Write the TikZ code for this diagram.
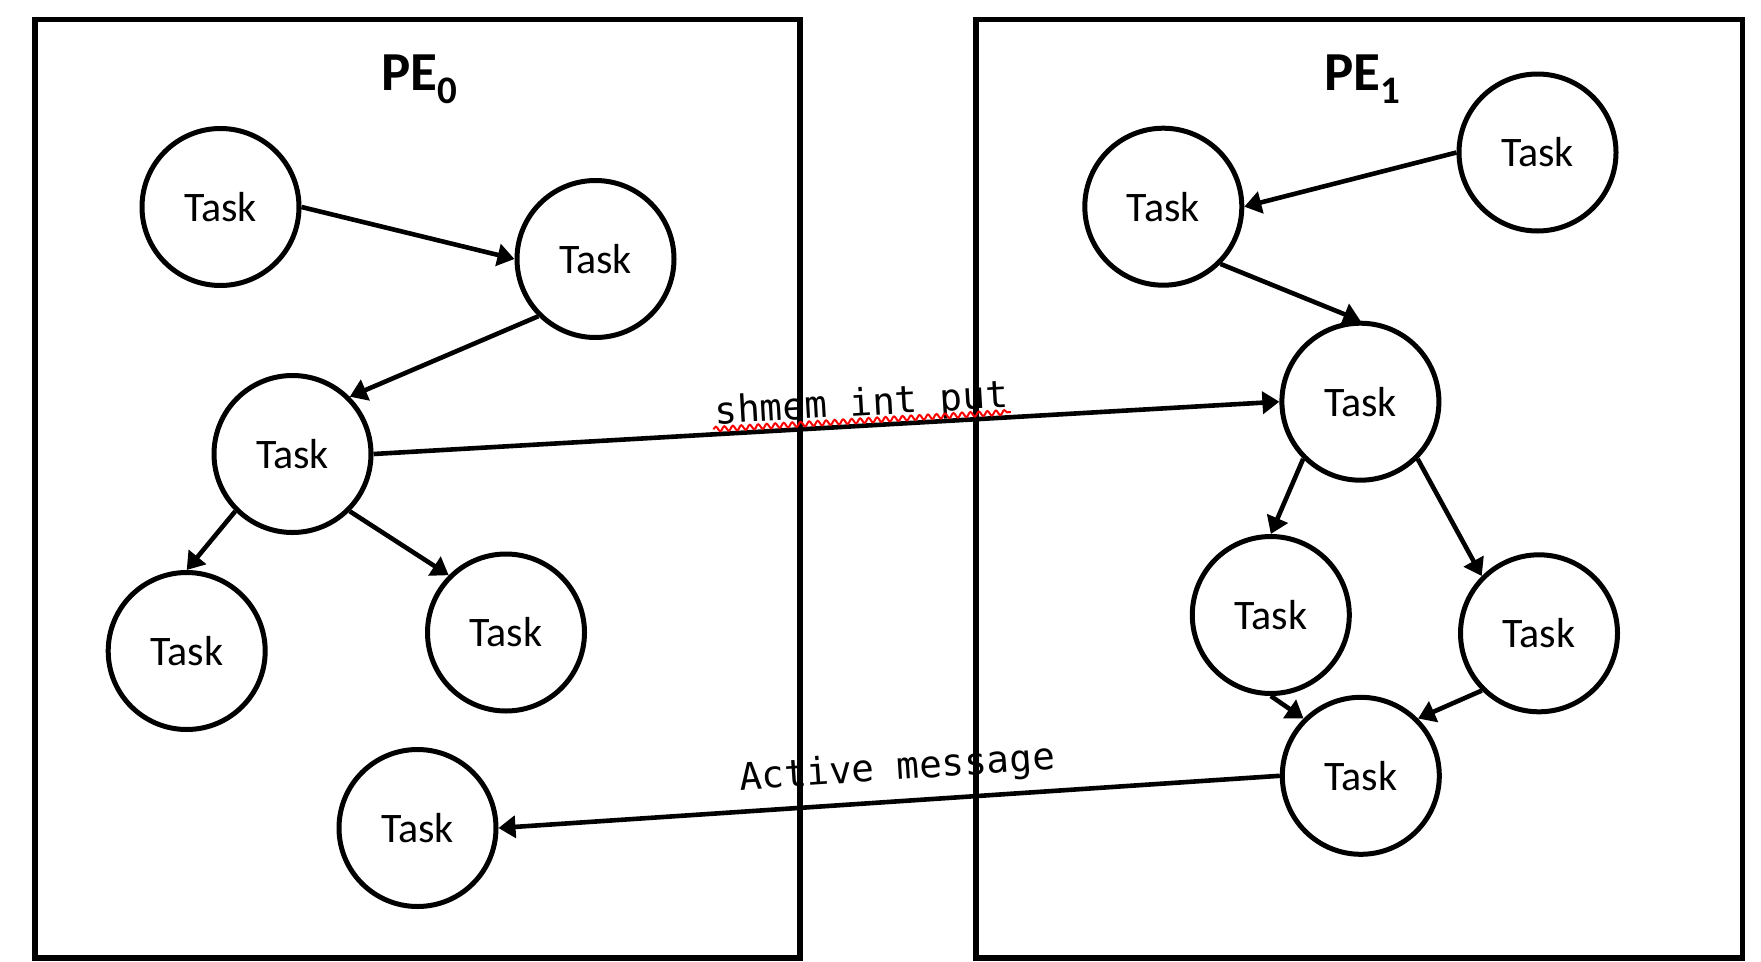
\documentclass[tikz,border=0pt]{standalone}
\usepackage{fontspec}
\setmainfont{Carlito}
\newfontfamily\codefont{DejaVu Sans Mono}
\usetikzlibrary{arrows.meta,decorations.pathmorphing}
\begin{document}
\begin{tikzpicture}[x=1pt,y=-1pt,
  task/.style={circle,draw,line width=5pt,minimum size=157pt,inner sep=0pt,font=\fontsize{42}{50}\selectfont},
  pebox/.style={draw,line width=5.5pt},
  arr/.style={line width=4.6pt,-{Triangle[length=17pt,width=22pt]}},
  rarr/.style={line width=4.6pt,{Triangle[length=17pt,width=22pt]}-},
  lbl/.style={font=\codefont\fontsize{37.5}{45}\selectfont,sloped,above,inner sep=0pt},
  title/.style={font=\bfseries\fontsize{55}{60}\selectfont,anchor=base,inner sep=0pt},
  squiggle/.style={red,line width=2pt,decorate,decoration={snake,amplitude=2.4pt,segment length=8.5pt}}]
\useasboundingbox (0,0) rectangle (1761,961);
% PE boxes
\draw[pebox] (35,19.5) rectangle (800,958);
\draw[pebox] (976,19.5) rectangle (1742.5,958);
% titles
\node[title] (pe0) at (419,90) {PE\raisebox{-13pt}{\fontsize{39}{40}\selectfont 0}};
\node[title] (pe1) at (1362,90) {PE\raisebox{-13pt}{\fontsize{39}{40}\selectfont 1}};
% tasks on PE0
\node[task] (t1) at (220.5,207) {Task};
\node[task] (t2) at (595.5,259) {Task};
\node[task] (t3) at (292.5,454) {Task};
\node[task] (t4) at (186.7,651) {Task};
\node[task] (t5) at (506,632.5) {Task};
\node[task] (t6) at (417.5,828) {Task};
% tasks on PE1
\node[task] (t7) at (1537.5,152.5) {Task};
\node[task] (t8) at (1163.3,206.7) {Task};
\node[task] (t9) at (1360.4,401.7) {Task};
\node[task] (t10) at (1270.8,615) {Task};
\node[task] (t11) at (1539,633.3) {Task};
\node[task] (t12) at (1360.8,775.8) {Task};
% edges PE0
\draw[arr] (t1.east) -- (t2.west);
\draw[arr] (t2.south west) -- (t3.north east);
\draw[arr] (t3.south west) -- (t4.north);
\draw[arr] (t3.south east) -- (t5.north west);
% edges PE1
\draw[arr] (t7.west) -- (t8.east);
\draw[arr] (t8.south east) -- (t9.north);
\draw[arr] (t9.south west) -- (t10.north);
\draw[arr] (t9.south east) -- (t11.north west);
\draw[arr] (t10.south) -- (t12.north west);
\draw[arr] (t11.south west) -- (t12.north east);
% cross-PE messages
\draw[arr] (t3.east) -- node[lbl,pos=0.54] (shm) {shmem int put} (t9.west);
\draw[squiggle] ([yshift=-5pt]shm.base west) -- ([yshift=-5pt]shm.base east);
\draw[rarr] (t6.east) -- node[lbl,pos=0.513,inner ysep=11pt] (am) {Active message} (t12.west);
\end{tikzpicture}
\end{document}
